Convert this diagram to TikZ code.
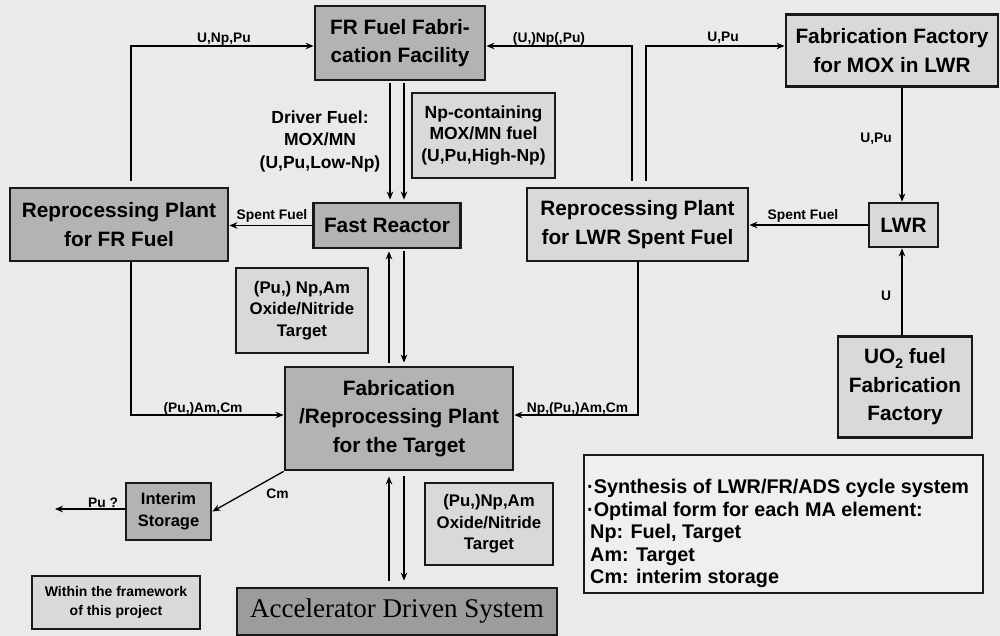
\documentclass[tikz,border=0pt]{standalone}
\usepackage{fontspec}
\setmainfont{Liberation Sans}
\newfontfamily\adsfont{Liberation Serif}
\usetikzlibrary{arrows.meta}
\definecolor{bgc}{HTML}{EAEAEA}
\definecolor{darkbox}{HTML}{B3B3B3}
\definecolor{lightbox}{HTML}{D9D9D9}
\definecolor{adsbox}{HTML}{9C9C9C}
\definecolor{notebox}{HTML}{EFEFEF}
\begin{document}
\begin{tikzpicture}[x=1pt,y=-1pt,
  box/.style={draw=black!90, line width=2.8pt, inner sep=0pt, align=center},
  bigtext/.style={font=\bfseries\fontsize{20.8}{28.5}\selectfont},
  gbox/.style={box, fill=darkbox, bigtext},
  wbox/.style={box, fill=lightbox, bigtext},
  tbox/.style={box, fill=lightbox, font=\bfseries\fontsize{16.8}{21.5}\selectfont},
  midtext/.style={align=center, inner sep=0pt, font=\bfseries\fontsize{17.5}{22.5}\selectfont},
  arr/.style={line width=1.3pt, -{Stealth[length=8pt,width=6.5pt]}},
  lab/.style={font=\bfseries\fontsize{13.8}{16}\selectfont, inner sep=0pt, anchor=base},
]
\fill[bgc] (0,0) rectangle (1000,636);
\useasboundingbox (0,0) rectangle (1000,636);

% helper coordinates for connector columns / rows
\coordinate (c131) at (131,0);
\coordinate (c389) at (389,0);
\coordinate (c390) at (390,0);
\coordinate (c404) at (404,0);
\coordinate (c632) at (632,0);
\coordinate (c646) at (646,0);
\coordinate (c638) at (638,0);
\coordinate (c902) at (902,0);
\coordinate (r46) at (0,46);
\coordinate (r415) at (0,415);
\coordinate (puend) at (55,509);

% boxes
\node[gbox, minimum width=170pt, minimum height=74pt] (ffab) at (400,43) {FR Fuel Fabri-\\cation Facility};
\node[box, fill=lightbox, minimum width=143pt, minimum height=85pt,
      font=\bfseries\fontsize{17.5}{21.5}\selectfont] (npbox) at (483.5,135.5) {Np-containing\\MOX/MN fuel\\(U,Pu,High-Np)};
\node[midtext] (driver) at (320,141) {Driver Fuel:\\MOX/MN\\(U,Pu,Low-Np)};
\node[gbox, minimum width=218pt, minimum height=73pt] (rpfr) at (119,224.5) {Reprocessing Plant\\for FR Fuel};
\node[gbox, minimum width=147pt, minimum height=45pt] (fr) at (387,225.5) {Fast Reactor};
\node[wbox, minimum width=221pt, minimum height=73pt] (rplwr) at (637.5,224.5) {Reprocessing Plant\\for LWR Spent Fuel};
\node[wbox, minimum width=212pt, minimum height=72pt] (moxf) at (892,50.5) {Fabrication Factory\\for MOX in LWR};
\node[wbox, minimum width=69pt, minimum height=44pt] (lwr) at (903.5,225) {LWR};
\node[wbox, minimum width=134pt, minimum height=101pt] (uo2) at (905,387) {UO\raisebox{-5pt}{\fontsize{14}{14}\selectfont 2} fuel\\Fabrication\\Factory};
\node[tbox, minimum width=132pt, minimum height=85pt] (tgt1) at (302,310.5) {(Pu,) Np,Am\\Oxide/Nitride\\Target};
\node[gbox, minimum width=228pt, minimum height=103pt] (tfab) at (399,418.5) {Fabrication\\/Reprocessing Plant\\for the Target};
\node[box, fill=darkbox, minimum width=85pt, minimum height=57pt,
      font=\bfseries\fontsize{16.5}{22}\selectfont] (interim) at (168.5,511.5) {Interim\\Storage};
\node[tbox, minimum width=128pt, minimum height=82pt] (tgt2) at (489,524) {(Pu,)Np,Am\\Oxide/Nitride\\Target};
\node[box, fill=adsbox, minimum width=320pt, minimum height=47pt,
      font=\adsfont\fontsize{27}{30}\selectfont] (ads) at (397,611.5) {Accelerator Driven System};
\node[box, fill=lightbox, minimum width=168pt, minimum height=53pt,
      font=\bfseries\fontsize{14}{19}\selectfont] (within) at (116,602.5) {Within the framework\\of this project};
\node[box, fill=notebox, minimum width=399pt, minimum height=138pt] (synth) at (783.5,524) {};
\node[anchor=north west, inner sep=0pt, align=left,
      font=\bfseries\fontsize{19.8}{22.5}\selectfont] (synthtxt) at (587,479)
  {·Synthesis of LWR/FR/ADS cycle system\\
   ·Optimal form for each MA element:\\
   \hspace{3pt}Np: Fuel, Target\\
   \hspace{3pt}Am: Target\\
   \hspace{3pt}Cm: interim storage};

% connectors
\draw[arr, shorten <=6pt] (rpfr.north -| c131) |- (ffab.west |- r46);
\node[lab] (l1) at (224,43) {U,Np,Pu};
\draw[arr, shorten <=6pt] (rplwr.north -| c632) |- (ffab.east |- r46);
\node[lab] (l2) at (549,42.5) {(U,)Np(,Pu)};
\draw[arr, shorten <=6pt] (rplwr.north -| c646) |- (moxf.west |- r46);
\node[lab] (l3) at (723,42) {U,Pu};
\draw[arr] (moxf.south -| c902) -- (lwr.north -| c902);
\node[lab] (l4) at (876,143) {U,Pu};
\draw[arr] (lwr.west) -- (rplwr.east |- lwr.west);
\node[lab] (l5) at (803,220) {Spent Fuel};
\draw[arr] (uo2.north -| c902) -- (lwr.south -| c902);
\node[lab] (l6) at (886,300) {U};
\draw[arr] (fr.west) -- (rpfr.east |- fr.west);
\node[lab] (l7) at (272,219) {Spent Fuel};

\draw[arr, shorten <=2pt, shorten >=2pt] (ffab.south -| c390) -- (fr.north -| c390);
\draw[arr, shorten <=2pt, shorten >=2pt] (ffab.south -| c404) -- (fr.north -| c404);

\draw[arr, shorten <=3pt, shorten >=2pt] (tfab.north -| c389) -- (fr.south -| c389);
\draw[arr, shorten <=2pt, shorten >=3pt] (fr.south -| c404) -- (tfab.north -| c404);

\draw[arr] (rpfr.south -| c131) |- (tfab.west |- r415);
\node[lab] (l8) at (203,412) {(Pu,)Am,Cm};
\draw[arr] (rplwr.south -| c638) |- (tfab.east |- r415);
\node[lab] (l9) at (577.5,412) {Np,(Pu,)Am,Cm};

\draw[arr] (tfab.south west) -- (interim.east);
\node[lab] (l10) at (277.5,498) {Cm};
\draw[arr] (interim.west |- puend) -- (puend);
\node[lab] (l11) at (103,507) {Pu ?};

\draw[arr, shorten <=6pt, shorten >=5pt] (ads.north -| c389) -- (tfab.south -| c389);
\draw[arr, shorten <=5pt, shorten >=6pt] (tfab.south -| c404) -- (ads.north -| c404);
\end{tikzpicture}
\end{document}
